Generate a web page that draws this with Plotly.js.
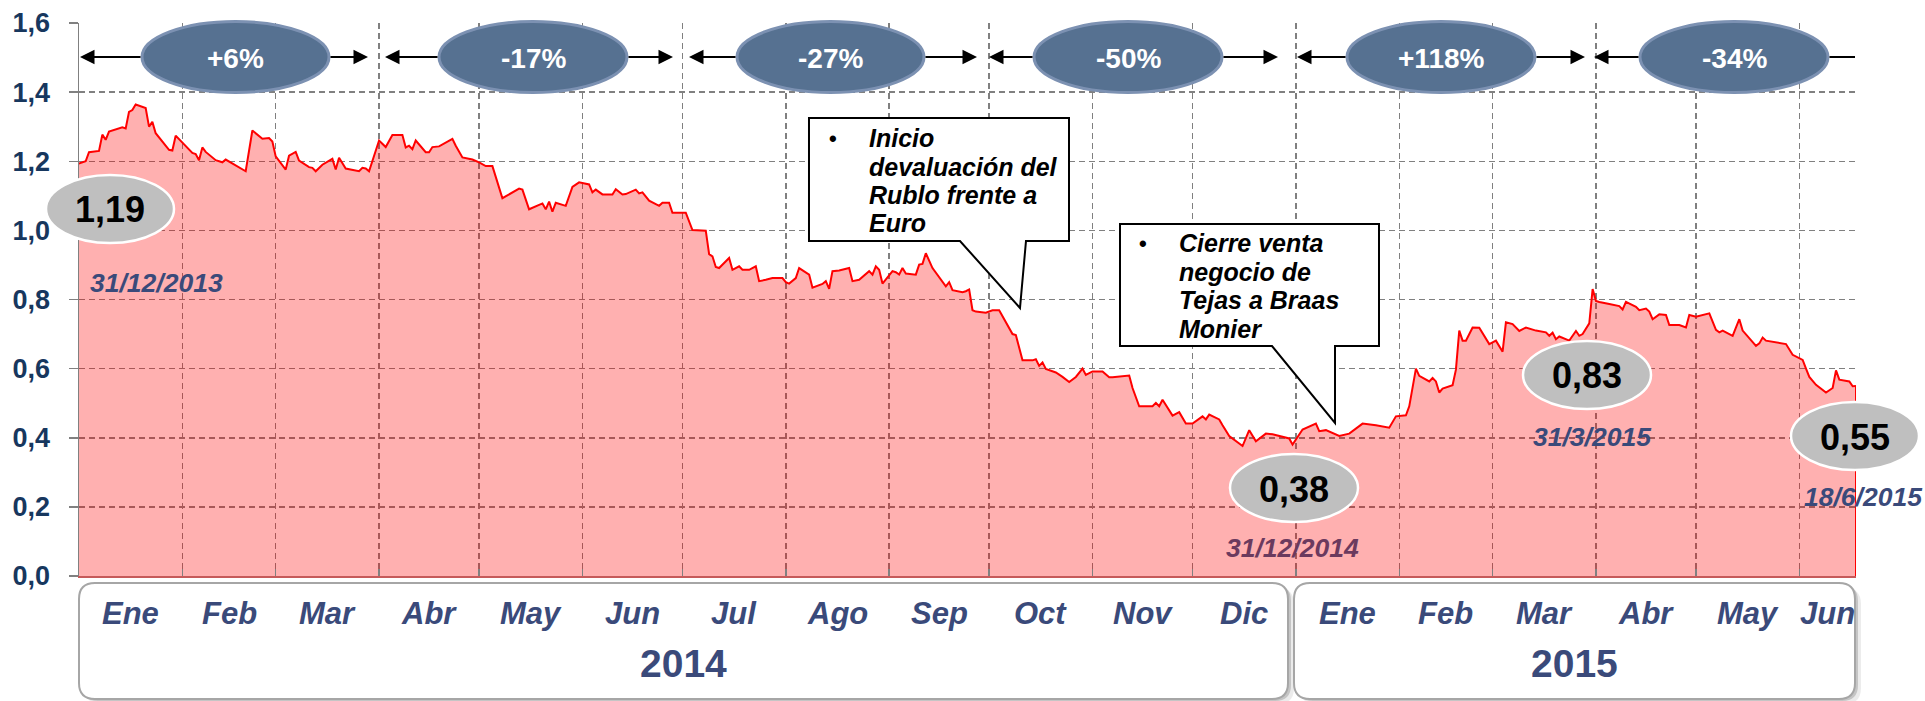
<!DOCTYPE html>
<html>
<head>
<meta charset="utf-8">
<script src="https://cdn.plot.ly/plotly-3.0.1.min.js"></script>
<style>
  html, body { margin: 0; padding: 0; background: #fff; }
  #chart { width: 1925px; height: 701px; }
</style>
</head>
<body>
<div id="chart"></div>
<script>
// daily close
const dates = [
  '2013-12-31','2014-01-03','2014-01-04','2014-01-07','2014-01-08','2014-01-09','2014-01-10','2014-01-14','2014-01-15','2014-01-16',
  '2014-01-17','2014-01-18','2014-01-21','2014-01-22','2014-01-23','2014-01-24','2014-01-28','2014-01-29','2014-01-30','2014-02-01',
  '2014-02-04','2014-02-05','2014-02-06','2014-02-07','2014-02-08','2014-02-11','2014-02-13','2014-02-14','2014-02-20','2014-02-22',
  '2014-02-24','2014-02-25','2014-02-27','2014-02-28','2014-03-01','2014-03-04','2014-03-05','2014-03-07','2014-03-08','2014-03-11',
  '2014-03-12','2014-03-13','2014-03-15','2014-03-18','2014-03-19','2014-03-20','2014-03-22','2014-03-26','2014-03-27','2014-03-28',
  '2014-03-29','2014-04-01','2014-04-03','2014-04-05','2014-04-08','2014-04-09','2014-04-10','2014-04-11','2014-04-12','2014-04-15',
  '2014-04-16','2014-04-17','2014-04-19','2014-04-23','2014-04-24','2014-04-26','2014-04-29','2014-05-01','2014-05-03','2014-05-05',
  '2014-05-08','2014-05-13','2014-05-14','2014-05-16','2014-05-20','2014-05-21','2014-05-22','2014-05-23','2014-05-24','2014-05-27',
  '2014-05-29','2014-05-31','2014-06-03','2014-06-04','2014-06-05','2014-06-07','2014-06-10','2014-06-11','2014-06-13','2014-06-14',
  '2014-06-17','2014-06-18','2014-06-19','2014-06-21','2014-06-24','2014-06-25','2014-06-27','2014-06-28','2014-07-02','2014-07-04',
  '2014-07-08','2014-07-09','2014-07-10','2014-07-11','2014-07-12','2014-07-15','2014-07-16','2014-07-18','2014-07-19','2014-07-21',
  '2014-07-23','2014-07-24','2014-07-26','2014-07-28','2014-07-31','2014-08-01','2014-08-02','2014-08-04','2014-08-05','2014-08-07',
  '2014-08-08','2014-08-09','2014-08-12','2014-08-13','2014-08-14','2014-08-15','2014-08-17','2014-08-20','2014-08-21','2014-08-23',
  '2014-08-26','2014-08-27','2014-08-28','2014-08-29','2014-08-30','2014-09-02','2014-09-03','2014-09-04','2014-09-05','2014-09-06',
  '2014-09-09','2014-09-10','2014-09-11','2014-09-12','2014-09-14','2014-09-18','2014-09-19','2014-09-20','2014-09-23','2014-09-24',
  '2014-09-25','2014-09-26','2014-09-27','2014-09-30','2014-10-02','2014-10-04','2014-10-08','2014-10-09','2014-10-11','2014-10-14',
  '2014-10-15','2014-10-16','2014-10-17','2014-10-18','2014-10-21','2014-10-23','2014-10-25','2014-10-27','2014-10-29','2014-10-30',
  '2014-11-01','2014-11-04','2014-11-06','2014-11-07','2014-11-12','2014-11-13','2014-11-15','2014-11-19','2014-11-20','2014-11-21',
  '2014-11-22','2014-11-25','2014-11-27','2014-11-29','2014-12-01','2014-12-04','2014-12-05','2014-12-06','2014-12-09','2014-12-10',
  '2014-12-12','2014-12-16','2014-12-18','2014-12-20','2014-12-23','2014-12-25','2014-12-30','2014-12-31','2015-01-03','2015-01-07',
  '2015-01-08','2015-01-10','2015-01-14','2015-01-17','2015-01-21','2015-01-25','2015-01-29','2015-01-31','2015-02-03','2015-02-04',
  '2015-02-06','2015-02-07','2015-02-10','2015-02-11','2015-02-12','2015-02-13','2015-02-14','2015-02-17','2015-02-18','2015-02-19',
  '2015-02-20','2015-02-21','2015-02-23','2015-02-25','2015-02-26','2015-02-28','2015-03-02','2015-03-04','2015-03-05','2015-03-07',
  '2015-03-09','2015-03-11','2015-03-14','2015-03-17','2015-03-18','2015-03-19','2015-03-20','2015-03-21','2015-03-24','2015-03-26',
  '2015-03-27','2015-03-28','2015-03-30','2015-03-31','2015-04-01','2015-04-02','2015-04-05','2015-04-08','2015-04-09','2015-04-10',
  '2015-04-13','2015-04-14','2015-04-16','2015-04-17','2015-04-18','2015-04-20','2015-04-22','2015-04-23','2015-04-26','2015-04-28',
  '2015-04-29','2015-05-01','2015-05-05','2015-05-07','2015-05-08','2015-05-09','2015-05-12','2015-05-14','2015-05-15','2015-05-17',
  '2015-05-19','2015-05-20','2015-05-21','2015-05-22','2015-05-25','2015-05-28','2015-05-30','2015-06-02','2015-06-03','2015-06-04',
  '2015-06-06','2015-06-09','2015-06-11','2015-06-12','2015-06-13','2015-06-16','2015-06-17','2015-06-18'
]
const prices = [
  1.19,1.20,1.226,1.23,1.277,1.262,1.286,1.298,1.295,1.343,
  1.348,1.364,1.354,1.30,1.314,1.281,1.233,1.231,1.274,1.254,
  1.224,1.221,1.203,1.24,1.227,1.203,1.197,1.205,1.171,1.289,
  1.274,1.265,1.267,1.257,1.214,1.176,1.216,1.227,1.202,1.183,
  1.181,1.171,1.19,1.207,1.176,1.21,1.179,1.171,1.181,1.179,
  1.171,1.26,1.241,1.276,1.276,1.24,1.245,1.235,1.26,1.226,
  1.226,1.241,1.243,1.265,1.245,1.211,1.205,1.197,1.186,1.186,
  1.093,1.121,1.118,1.061,1.078,1.061,1.083,1.054,1.080,1.071,
  1.126,1.139,1.133,1.110,1.118,1.104,1.104,1.119,1.104,1.105,
  1.118,1.107,1.110,1.086,1.071,1.080,1.080,1.051,1.051,1.001,
  0.999,0.931,0.925,0.894,0.891,0.920,0.886,0.896,0.886,0.886,
  0.896,0.853,0.857,0.862,0.862,0.850,0.846,0.862,0.891,0.879,
  0.872,0.834,0.845,0.853,0.831,0.882,0.884,0.891,0.853,0.857,
  0.882,0.872,0.896,0.886,0.846,0.882,0.879,0.872,0.891,0.875,
  0.872,0.901,0.903,0.934,0.891,0.838,0.850,0.827,0.821,0.824,
  0.829,0.769,0.765,0.762,0.769,0.769,0.700,0.697,0.624,0.624,
  0.627,0.608,0.618,0.599,0.589,0.576,0.561,0.576,0.600,0.582,
  0.592,0.592,0.575,0.575,0.580,0.544,0.491,0.491,0.501,0.491,
  0.510,0.464,0.474,0.441,0.441,0.462,0.453,0.467,0.453,0.436,
  0.405,0.376,0.422,0.390,0.412,0.410,0.398,0.38,0.424,0.441,
  0.419,0.422,0.405,0.412,0.441,0.436,0.429,0.462,0.465,0.491,
  0.600,0.579,0.563,0.573,0.563,0.531,0.542,0.552,0.597,0.710,
  0.681,0.681,0.719,0.718,0.702,0.671,0.681,0.649,0.734,0.729,
  0.709,0.719,0.710,0.705,0.695,0.704,0.685,0.693,0.681,0.709,
  0.695,0.700,0.731,0.83,0.796,0.793,0.787,0.781,0.771,0.793,
  0.779,0.769,0.774,0.765,0.743,0.757,0.755,0.726,0.726,0.719,
  0.755,0.750,0.760,0.712,0.705,0.710,0.695,0.743,0.710,0.688,
  0.666,0.673,0.690,0.681,0.675,0.671,0.640,0.625,0.600,0.576,
  0.553,0.531,0.544,0.595,0.568,0.563,0.549,0.55
]

const monthLabels = ['Ene','Feb','Mar','Abr','May','Jun','Jul','Ago','Sep','Oct','Nov','Dic',
                     'Ene','Feb','Mar','Abr','May','Jun']
const monthStarts = ['2014-01-01','2014-02-01','2014-03-01','2014-04-01','2014-05-01','2014-06-01',
                     '2014-07-01','2014-08-01','2014-09-01','2014-10-01','2014-11-01','2014-12-01',
                     '2015-01-01','2015-02-01','2015-03-01','2015-04-01','2015-05-01','2015-06-01']
const yearLabels = ['2014', '2015']
const quarterChanges = ['+6%', '-17%', '-27%', '-50%', '+118%', '-34%']
const keyDates = ['2013-12-31', '2014-12-31', '2015-03-31', '2015-06-18']
const keyDateLabels = ['31/12/2013', '31/12/2014', '31/3/2015', '18/6/2015']
const noteLines = [
  ['Inicio', 'devaluación del', 'Rublo frente a', 'Euro'],
  ['Cierre venta', 'negocio de', 'Tejas a Braas', 'Monier']
]

// ---- geometry (pixels of the 1925x701 page) ----
const FONT = 'Liberation Sans, Arial, sans-serif'
const NAVY = '#3A4A7A'
const W = 1925, H = 701
const M = {l: 79, r: 69, t: 23, b: 125}
const PW = W - M.l - M.r, PH = H - M.t - M.b
const px = x => (x - M.l) / PW
const py = y => (H - M.b - y) / PH
const xStart = '2014-01-01', xEnd = dates[dates.length - 1]

const toPlotlyDate = ms => new Date(ms).toISOString().slice(0, 19).replace('T', ' ')

// centred paper-space text
const label = (x, y, text, font, extra) => Object.assign({
  xref: 'paper', yref: 'paper', x: px(x), y: py(y), xanchor: 'center', yanchor: 'middle',
  showarrow: false, text, font: Object.assign({family: FONT}, font)
}, extra || {})

const ellipse = (cx, cy, w, h, fill, line, lw) => ({
  type: 'circle', xref: 'paper', yref: 'paper', layer: 'above',
  x0: px(cx - w / 2), x1: px(cx + w / 2), y0: py(cy + h / 2), y1: py(cy - h / 2),
  fillcolor: fill, line: {color: line, width: lw}
})

const roundRect = (x0, y0, x1, y1, r) => {
  const X = v => px(v).toFixed(5), Y = v => py(v).toFixed(5)
  return `M${X(x0 + r)},${Y(y0)} L${X(x1 - r)},${Y(y0)} Q${X(x1)},${Y(y0)} ${X(x1)},${Y(y0 + r)} ` +
    `L${X(x1)},${Y(y1 - r)} Q${X(x1)},${Y(y1)} ${X(x1 - r)},${Y(y1)} L${X(x0 + r)},${Y(y1)} ` +
    `Q${X(x0)},${Y(y1)} ${X(x0)},${Y(y1 - r)} L${X(x0)},${Y(y0 + r)} Q${X(x0)},${Y(y0)} ${X(x0 + r)},${Y(y0)} Z`
}

const polyPath = pts => 'M' + pts.map(([x, y]) => `${px(x).toFixed(5)},${py(y).toFixed(5)}`).join(' L') + ' Z'

const shapes = []
const annotations = []

// bottom label boxes with soft shadow
const boxes = [[79, 583, 1288, 699], [1294, 583, 1855, 699]]
boxes.forEach(([x0, y0, x1, y1], i) => {
  shapes.push({type: 'path', xref: 'paper', yref: 'paper', path: roundRect(x0 + 6, y0 + 5, x1 + 6, y1 + 5, 16),
    fillcolor: 'rgba(0,0,0,0.08)', line: {width: 0}})
  shapes.push({type: 'path', xref: 'paper', yref: 'paper', path: roundRect(x0 + 3, y0 + 2, x1 + 3, y1 + 2, 16),
    fillcolor: 'rgba(0,0,0,0.16)', line: {width: 0}})
  shapes.push({type: 'path', xref: 'paper', yref: 'paper', path: roundRect(x0, y0, x1, y1, 16),
    fillcolor: '#ffffff', line: {color: '#A6A6A6', width: 2}})
  annotations.push(label((x0 + x1) / 2, 663, yearLabels[i], {size: 39, color: NAVY, weight: 'bold'}))
})

// month labels at the middle of each (visible) month
monthLabels.forEach((m, i) => {
  const a = Date.parse(monthStarts[i])
  const b = Date.parse(i + 1 < monthStarts.length ? monthStarts[i + 1] : xEnd)
  annotations.push({xref: 'x', yref: 'paper', x: toPlotlyDate((a + b) / 2), y: py(613),
    xanchor: 'center', yanchor: 'middle', showarrow: false,
    text: m, font: {family: FONT, size: 31, color: NAVY, weight: 'bold', style: 'italic'}})
})

// quarter arrows and change ellipses
const arrowY = 57
const quarters = [
  [80, 368, 142, 329], [385, 673, 439, 627], [689, 977, 737, 924],
  [989, 1278, 1034, 1222], [1297, 1585, 1347, 1535], [1594, 1855, 1640, 1828]
]
quarters.forEach(([a, b, e0, e1], i) => {
  const last = i === quarters.length - 1
  const arrow = {xref: 'paper', yref: 'paper', axref: 'pixel', ayref: 'pixel', y: py(arrowY), ay: 0,
    text: '', showarrow: true, arrowcolor: '#000', arrowwidth: 2, arrowsize: 1.45, arrowhead: 2, standoff: 0}
  annotations.push(Object.assign({}, arrow, {x: px(a), ax: e0 - a}))
  annotations.push(Object.assign({}, arrow, {x: px(b), ax: e1 - b, arrowhead: last ? 0 : 2}))
  const cx = (e0 + e1) / 2
  shapes.push(ellipse(cx, arrowY, e1 - e0, 71, '#567191', '#7C91B2', 3))
  annotations.push(label(cx, arrowY + 1, quarterChanges[i], {size: 28, color: '#ffffff', weight: 'bold'}))
})

// value bubbles + dates
const bubbles = [[110, 209], [1294, 488], [1587, 375], [1855, 436]]
const dateSpots = [[156, 283, NAVY], [1292, 548, '#6B3A5E'], [1592, 437, NAVY], [1864, 497, NAVY]]
keyDates.forEach((d, i) => {
  const v = prices[dates.indexOf(d)]
  const [cx, cy] = bubbles[i]
  shapes.push(ellipse(cx, cy, 128, 68, '#BFBFBF', '#ffffff', 2.5))
  annotations.push(label(cx, cy + 1, v.toFixed(2).replace('.', ','), {size: 36, color: '#000', weight: 'bold'}))
  const [dx, dy, dc] = dateSpots[i]
  annotations.push(label(dx, dy, keyDateLabels[i], {size: 26.5, color: dc, weight: 'bold', style: 'italic'}))
})

// callouts
const callouts = [
  {pts: [[809, 118], [1069, 118], [1069, 241], [1026, 241], [1020, 308], [960, 241], [809, 241]],
   bullet: [833, 138], textX: 867, textY: 138},
  {pts: [[1120, 224], [1379, 224], [1379, 346], [1335, 346], [1335, 423], [1272, 346], [1120, 346]],
   bullet: [1143, 243], textX: 1177, textY: 243}
]
callouts.forEach((c, i) => {
  shapes.push({type: 'path', xref: 'paper', yref: 'paper', path: polyPath(c.pts),
    fillcolor: '#ffffff', line: {color: '#000', width: 2}})
  annotations.push(label(c.bullet[0], c.bullet[1], '•', {size: 22, color: '#000', weight: 'bold'}))
  noteLines[i].forEach((line, k) => {
    annotations.push(label(c.textX, c.textY + k * 28.5, line,
      {size: 25, color: '#000', weight: 'bold', style: 'italic'}, {xanchor: 'left'}))
  })
})

// right border of the area
shapes.unshift({type: 'line', xref: 'x', yref: 'y', layer: 'above',
  x0: xEnd, x1: xEnd, y0: 0, y1: prices[prices.length - 1], line: {color: '#FF0000', width: 2}})

const trace = {
  x: dates, y: prices, type: 'scatter', mode: 'lines', fill: 'tozeroy',
  fillcolor: 'rgba(255,0,0,0.31)', line: {color: '#FF0000', width: 2}, hoverinfo: 'skip'
}

const layout = {
  width: W, height: H, margin: M,
  paper_bgcolor: '#ffffff', plot_bgcolor: '#ffffff',
  showlegend: false, hovermode: false, separators: ',.',
  font: {family: FONT},
  xaxis: {
    type: 'date', range: [xStart, xEnd], tick0: xStart, dtick: 'M1',
    showticklabels: false, ticks: 'inside', ticklen: 7, tickcolor: '#808080', tickwidth: 1.5,
    showgrid: true, gridcolor: '#808080', gridwidth: 1.5, griddash: '6px,4px',
    showline: true, linecolor: '#C65A5A', linewidth: 2, zeroline: false, layer: 'above traces'
  },
  yaxis: {
    range: [0, 1.6], tick0: 0, dtick: 0.2, tickformat: '.1f',
    ticks: 'outside', ticklen: 9, tickcolor: '#808080', tickwidth: 1.5, ticklabelstandoff: 13,
    tickfont: {family: FONT, size: 27, color: '#17375E', weight: 'bold'},
    showgrid: true, gridcolor: '#808080', gridwidth: 1.5, griddash: '6px,4px',
    showline: true, linecolor: '#808080', linewidth: 1.5, zeroline: false, layer: 'below traces'
  },
  shapes, annotations
}

Plotly.newPlot('chart', [trace], layout, {staticPlot: true, displayModeBar: false})
</script>
</body>
</html>
